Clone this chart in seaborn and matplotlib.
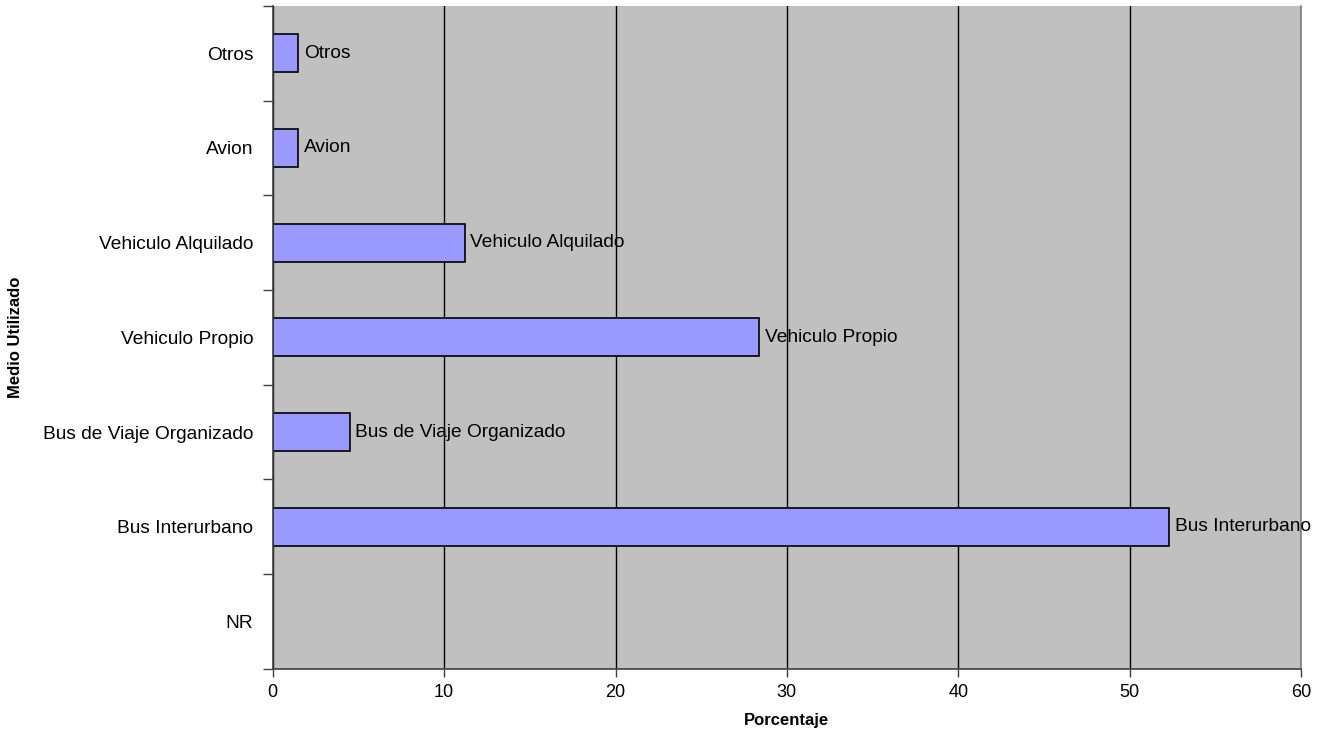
import matplotlib
matplotlib.use("Agg")
import matplotlib.pyplot as plt
import numpy as np
import pandas as pd
import seaborn as sns

# --------------------------------------------------------------------------- #
# Data (top to bottom as drawn)
# --------------------------------------------------------------------------- #
categories = ["Otros", "Avion", "Vehiculo Alquilado", "Vehiculo Propio",
              "Bus de Viaje Organizado", "Bus Interurbano", "NR"]
percentages = [1.5, 1.5, 11.2, 28.4, 4.5, 52.3, 0.0]
x_ticks = [0, 10, 20, 30, 40, 50, 60]

sns.set_theme(style="white")
plt.rcParams["font.family"] = ["Liberation Sans", "DejaVu Sans"]

df = pd.DataFrame({"medio": categories, "pct": percentages})

fig = plt.figure(figsize=(13.29, 7.38), dpi=100)
ax = fig.add_axes([0.2052, 0.0939, 0.979 - 0.2052, 0.9919 - 0.0939])
ax.set_facecolor("#C0C0C0")

sns.barplot(data=df, x="pct", y="medio", orient="h", color="#9999FF",
            saturation=1, edgecolor="black", linewidth=1.2, width=0.4, ax=ax)

# labels beside bars (skip empty ones)
bar_texts = [c if v > 0 else "" for c, v in zip(categories, percentages)]
ax.bar_label(ax.containers[0], labels=bar_texts, padding=4, fontsize=13.8,
             color="black")

ax.set_xlim(x_ticks[0], x_ticks[-1])
ax.set_ylim(len(categories) - 0.5, -0.5)
ax.set_xticks(x_ticks)
ax.set_xticklabels([str(t) for t in x_ticks])
ax.tick_params(axis="y", which="major", length=0, labelsize=13.8, pad=14,
               labelcolor="black")
ax.set_yticks(np.arange(-0.5, len(categories), 1.0), minor=True)
ax.tick_params(axis="y", which="minor", length=7, width=1, color="#404040",
               direction="out", left=True)
ax.tick_params(axis="x", which="major", length=6, width=1, color="#404040",
               direction="out", bottom=True, labelsize=13, pad=5,
               labelcolor="black")

ax.grid(axis="x", color="black", linewidth=1)
ax.grid(axis="y", visible=False)
ax.set_axisbelow(True)

for side in ["left", "bottom"]:
    ax.spines[side].set_color("#404040")
    ax.spines[side].set_linewidth(1.2)
ax.spines["top"].set_visible(False)
ax.spines["right"].set_color("#808080")
ax.spines["right"].set_linewidth(1.2)

ax.set_xlabel("Porcentaje", fontsize=12, fontweight="bold", labelpad=9,
              color="black")
ax.set_ylabel("Medio Utilizado", fontsize=12, fontweight="bold", labelpad=14,
              color="black")

fig.savefig("out.png", dpi=100)
